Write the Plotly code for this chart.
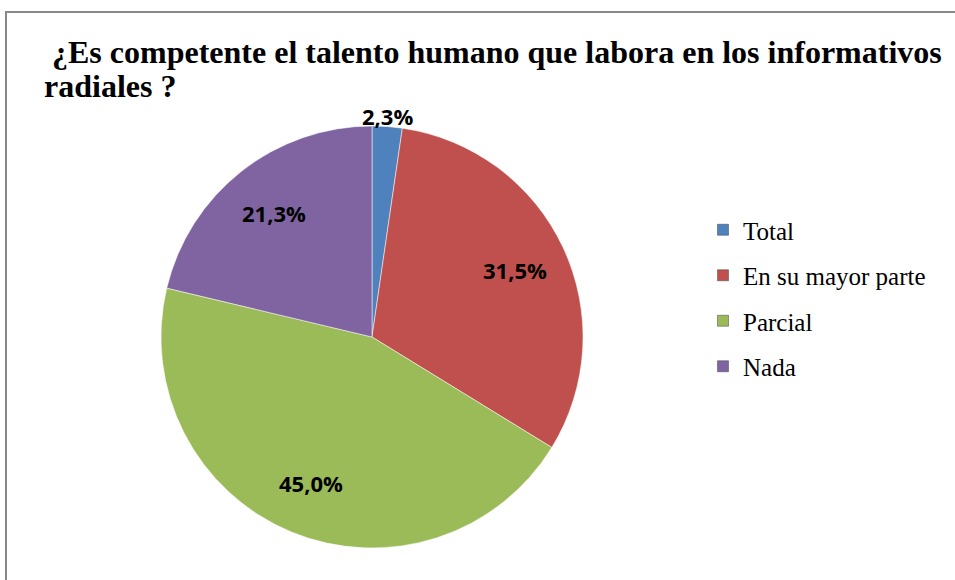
import math
import plotly.graph_objects as go

categories = ["Total", "En su mayor parte", "Parcial", "Nada"]
values = [2.3, 31.5, 45.0, 21.3]
colors = ["#4F81BD", "#C0504D", "#9BBB59", "#8064A2"]
title_lines = ["\u00a0¿Es competente el talento humano que labora en los informativos", "radiales ?"]

W, H = 955, 580
cx, cy, r = 372, 337, 211

fig = go.Figure()
fig.add_trace(go.Pie(
    labels=categories, values=values, sort=False, direction="clockwise", rotation=0,
    marker=dict(colors=colors, line=dict(color="rgba(255,255,255,0.5)", width=1)),
    textinfo="none",
    showlegend=False, hoverinfo="label+percent",
    domain=dict(x=[(cx - r) / W, (cx + r) / W], y=[1 - (cy + r) / H, 1 - (cy - r) / H]),
))
for c, col in zip(categories, colors):
    fig.add_trace(go.Scatter(
        x=[None], y=[None], mode="markers", name=c, legendgroup=c,
        marker=dict(symbol="square", size=11, color=col, line=dict(color="#444", width=0.5)),
    ))

total = sum(values)
annotations = []
cum = 0.0
for v in values:
    mid = (cum + v / 2) / total * 2 * math.pi
    cum += v
    rr = r * (1.05 if v / total < 0.05 else 0.75)
    px = cx + rr * math.sin(mid)
    py = cy - rr * math.cos(mid)
    annotations.append(dict(
        x=px / W, y=1 - py / H, xref="paper", yref="paper", showarrow=False,
        xanchor="center", yanchor="middle",
        text="<b>" + f"{v:.1f}".replace(".", ",") + "%</b>",
        font=dict(family="Open Sans", size=22, color="black"),
    ))

# chart title, one annotation per line
for i, line in enumerate(title_lines):
    annotations.append(dict(
        x=42 / W, y=1 - (52 + 34 * i) / H, xref="paper", yref="paper", showarrow=False,
        xanchor="left", yanchor="middle", align="left", text="<b>" + line + "</b>",
        font=dict(family="Liberation Serif", size=32, color="black"),
    ))

fig.update_layout(
    width=W, height=H,
    margin=dict(l=0, r=0, t=0, b=0),
    paper_bgcolor="white", plot_bgcolor="white",
    xaxis=dict(visible=False), yaxis=dict(visible=False),
    legend=dict(x=703 / W, y=1 - 207 / H, xanchor="left", yanchor="top",
                font=dict(family="Liberation Serif", size=25, color="black"),
                tracegroupgap=10, itemwidth=30, bgcolor="rgba(0,0,0,0)"),
    annotations=annotations,
    shapes=[dict(type="rect", xref="paper", yref="paper", x0=6 / W, x1=1.02, y0=-0.02, y1=1 - 12 / H,
                 line=dict(color="#888888", width=2), fillcolor="rgba(0,0,0,0)", layer="below")],
)
fig.write_html("out.html", config={"displayModeBar": False},
               post_script="document.body.style.margin='0px';")
